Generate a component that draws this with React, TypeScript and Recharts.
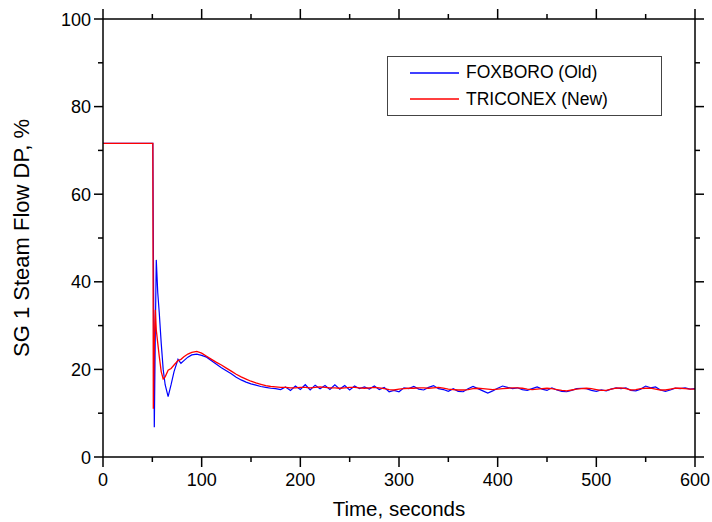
import { LineChart, Line, XAxis, YAxis, Legend, Label } from 'recharts'

// sample times, seconds
const times = [
  0, 50.5, 51, 52, 53, 54, 55.5, 57, 59, 61, 63, 66, 69, 72, 76, 79, 82, 86, 90, 95, 100,
  105, 110, 115, 120, 125, 130, 135, 140, 145, 150, 155, 160, 165, 170, 175, 180, 185, 190, 195, 200,
  205, 210, 215, 220, 225, 230, 235, 240, 245, 250, 255, 260, 265, 270, 275, 280, 285, 290, 295, 300,
  305, 310, 315, 320, 325, 330, 335, 340, 345, 350, 355, 360, 365, 370, 375, 380, 385, 390, 395, 400,
  405, 410, 415, 420, 425, 430, 435, 440, 445, 450, 455, 460, 465, 470, 475, 480, 485, 490, 495, 500,
  505, 510, 515, 520, 525, 530, 535, 540, 545, 550, 555, 560, 565, 570, 575, 580, 585, 590, 595, 600,
]

// FOXBORO (Old), %
const foxboro = [
  71.6, 71.6, 50, 6.8, 28, 45, 37.5, 33, 26, 20, 16.5, 13.8, 16.5, 19.5, 22.3, 21.4, 22.0, 22.8, 23.3, 23.5, 23.2,
  22.8, 22.0, 21.2, 20.4, 19.7, 19.0, 18.2, 17.6, 17.1, 16.7, 16.4, 16.1, 15.9, 15.7, 15.6, 15.4, 16.0, 15.2, 16.2, 15.4,
  16.5, 15.3, 16.4, 15.6, 16.3, 15.4, 16.5, 15.5, 16.3, 15.3, 16.2, 15.6, 16.0, 15.5, 16.2, 15.4, 15.9, 14.9, 15.2, 14.9,
  15.8, 15.6, 16.1, 15.5, 15.3, 15.9, 16.3, 15.6, 15.4, 15.0, 15.6, 15.0, 14.9, 15.6, 16.1, 15.6, 15.1, 14.6, 15.1, 15.7,
  16.2, 15.9, 15.6, 15.8, 15.4, 15.2, 15.6, 16.0, 15.5, 15.2, 15.8, 15.3, 15.0, 14.9, 15.2, 15.6, 15.7, 15.6, 15.2, 15.0,
  15.3, 15.1, 15.5, 15.8, 15.6, 15.8, 15.2, 15.1, 15.5, 16.2, 15.8, 16.0, 15.3, 15.0, 15.3, 15.7, 15.6, 15.8, 15.5, 15.6,
]

// TRICONEX (New), %
const triconex = [
  71.6, 71.6, 11, 26, 33.6, 29, 26, 23, 19.5, 17.8, 18.3, 19.8, 20.2, 21.0, 22.0, 22.3, 22.9, 23.5, 23.9, 24.1, 23.7,
  23.0, 22.3, 21.6, 21.0, 20.3, 19.6, 18.9, 18.3, 17.8, 17.3, 16.9, 16.6, 16.3, 16.1, 16.0, 15.9, 15.9, 15.8, 15.8, 15.9,
  15.9, 15.8, 15.9, 16.0, 15.9, 15.8, 15.8, 15.7, 15.8, 15.9, 15.9, 15.8, 15.7, 15.8, 15.9, 15.8, 15.6, 15.4, 15.3, 15.5,
  15.6, 15.7, 15.7, 15.8, 15.8, 15.7, 15.8, 15.9, 15.7, 15.5, 15.4, 15.3, 15.3, 15.4, 15.6, 15.7, 15.6, 15.5, 15.4, 15.5,
  15.6, 15.7, 15.8, 15.8, 15.7, 15.5, 15.4, 15.5, 15.6, 15.7, 15.6, 15.4, 15.2, 15.1, 15.3, 15.5, 15.6, 15.7, 15.6, 15.4,
  15.2, 15.2, 15.5, 15.7, 15.8, 15.6, 15.3, 15.4, 15.6, 15.7, 15.7, 15.5, 15.3, 15.3, 15.5, 15.7, 15.7, 15.6, 15.5, 15.5,
]

const xTicks = [0, 50, 100, 150, 200, 250, 300, 350, 400, 450, 500, 550, 600]
const yTicks = [0, 10, 20, 30, 40, 50, 60, 70, 80, 90, 100]

const FOX_NAME = 'FOXBORO (Old)'
const TRI_NAME = 'TRICONEX (New)'
const FOX_COLOR = '#0000ff'
const TRI_COLOR = '#ff0000'
const seriesColors: Record<string, string> = { [FOX_NAME]: FOX_COLOR, [TRI_NAME]: TRI_COLOR }

const data = times.map((t, i) => ({ t, foxboro: foxboro[i], triconex: triconex[i] }))

const FONT = '"Liberation Sans", Arial, Helvetica, sans-serif'
const AXIS = { stroke: '#000', strokeWidth: 1.5 }
const TICK_STROKE = '#000'

const BottomTick = ({ x, y, payload }: any) => {
  const major = payload.value % 100 === 0
  return (
    <g>
      <line x1={x} x2={x} y1={y} y2={y + (major ? 10 : 5)} stroke={TICK_STROKE} strokeWidth={1.5} />
      {major && (
        <text x={x} y={y + 29} textAnchor="middle" fontSize={18} fontFamily={FONT} fill="#000">
          {payload.value}
        </text>
      )}
    </g>
  )
}

const TopTick = ({ x, y, payload }: any) => {
  const major = payload.value % 100 === 0
  return <line x1={x} x2={x} y1={y} y2={y - (major ? 10 : 5)} stroke={TICK_STROKE} strokeWidth={1.5} />
}

const LeftTick = ({ x, y, payload }: any) => {
  const major = payload.value % 20 === 0
  return (
    <g>
      <line x1={x} x2={x - (major ? 9 : 5)} y1={y} y2={y} stroke={TICK_STROKE} strokeWidth={1.5} />
      {major && (
        <text x={x - 12} y={y + 6.5} textAnchor="end" fontSize={18} fontFamily={FONT} fill="#000">
          {payload.value}
        </text>
      )}
    </g>
  )
}

const RightTick = ({ x, y, payload }: any) => {
  const major = payload.value % 20 === 0
  return <line x1={x} x2={x + (major ? 9 : 5)} y1={y} y2={y} stroke={TICK_STROKE} strokeWidth={1.5} />
}

const LegendBox = ({ payload }: any) => (
  <div
    style={{
      width: 273,
      height: 55,
      border: '1px solid #444',
      background: '#fff',
      fontFamily: FONT,
      fontSize: 17.5,
      color: '#000',
      paddingTop: 3,
      boxSizing: 'content-box',
    }}
  >
    {(payload || [])
      .filter((p: any) => seriesColors[p.value])
      .map((p: any) => (
        <div key={p.value} style={{ display: 'flex', alignItems: 'center', height: 26.3 }}>
          <svg width={49} height={4} style={{ marginLeft: 22, display: 'block' }}>
            <line x1={0} x2={49} y1={2} y2={2} stroke={seriesColors[p.value]} strokeWidth={1.3} />
          </svg>
          <span style={{ marginLeft: 7, lineHeight: 1 }}>{p.value}</span>
        </div>
      ))}
  </div>
)

const XTitle = ({ viewBox }: any) => (
  <text
    x={viewBox.x + viewBox.width / 2}
    y={viewBox.y + 59}
    textAnchor="middle"
    fontSize={20.5}
    fontFamily={FONT}
    fill="#000"
  >
    Time, seconds
  </text>
)

const YTitle = ({ viewBox }: any) => {
  const cx = viewBox.x - 14
  const cy = viewBox.y + viewBox.height / 2
  return (
    <text
      x={cx}
      y={cy}
      transform={`rotate(-90 ${cx} ${cy})`}
      textAnchor="middle"
      fontSize={22}
      fontFamily={FONT}
      fill="#000"
    >
      SG 1 Steam Flow DP, %
    </text>
  )
}

export default function App() {
  return (
    <div style={{ position: 'absolute', left: 0, top: 0, width: 712, height: 522, background: '#fff' }}>
      <LineChart width={712} height={522} data={data} margin={{ top: 18, right: 16, bottom: 25, left: 43 }}>
        <XAxis
          dataKey="t"
          type="number"
          domain={[0, 600]}
          ticks={xTicks}
          interval={0}
          axisLine={AXIS}
          tickLine={false}
          tickSize={0}
          tickMargin={0}
          tick={<BottomTick />}
          height={40}
        >
          <Label content={<XTitle />} />
        </XAxis>
        <XAxis
          xAxisId="top"
          orientation="top"
          dataKey="t"
          type="number"
          domain={[0, 600]}
          ticks={xTicks}
          interval={0}
          axisLine={AXIS}
          tickLine={false}
          tickSize={0}
          tickMargin={0}
          tick={<TopTick />}
          height={1}
        />
        <YAxis
          type="number"
          domain={[0, 100]}
          ticks={yTicks}
          interval={0}
          axisLine={AXIS}
          tickLine={false}
          tickSize={0}
          tickMargin={0}
          tick={<LeftTick />}
          width={60}
        >
          <Label content={<YTitle />} />
        </YAxis>
        <YAxis
          yAxisId="right"
          orientation="right"
          type="number"
          domain={[0, 100]}
          ticks={yTicks}
          interval={0}
          axisLine={AXIS}
          tickLine={false}
          tickSize={0}
          tickMargin={0}
          tick={<RightTick />}
          width={1}
        />
        <Legend
          layout="vertical"
          align="center"
          verticalAlign="middle"
          content={<LegendBox />}
          wrapperStyle={{ left: 387, top: 56, width: 'auto', height: 'auto' }}
        />
        {/* transparent copy so the top and right frame axes get a domain */}
        <Line
          xAxisId="top"
          yAxisId="right"
          dataKey="triconex"
          stroke="none"
          legendType="none"
          dot={false}
          activeDot={false}
          isAnimationActive={false}
        />
        <Line
          dataKey="foxboro"
          name={FOX_NAME}
          stroke={FOX_COLOR}
          strokeWidth={1.2}
          dot={false}
          type="linear"
          isAnimationActive={false}
        />
        <Line
          dataKey="triconex"
          name={TRI_NAME}
          stroke={TRI_COLOR}
          strokeWidth={1.3}
          dot={false}
          type="linear"
          isAnimationActive={false}
        />
      </LineChart>
    </div>
  )
}
